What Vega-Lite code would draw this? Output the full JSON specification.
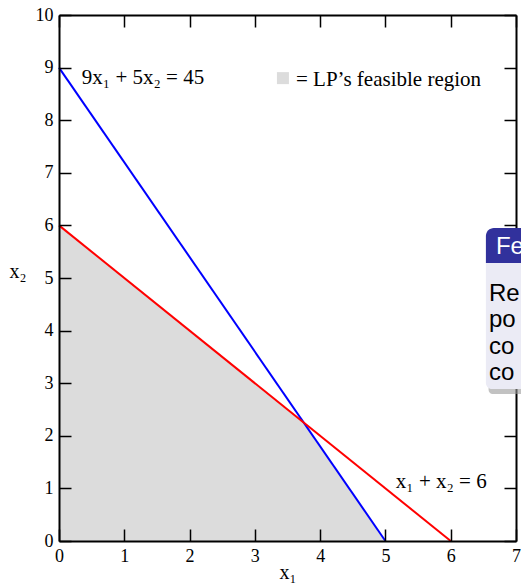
{
  "$schema": "https://vega.github.io/schema/vega-lite/v6.json",
  "width": 457,
  "height": 526,
  "autosize": {"type": "none"},
  "padding": {"left": 59, "top": 15, "right": 5, "bottom": 43},
  "background": "white",
  "config": {
    "view": {"stroke": null},
    "axis": {
      "grid": false,
      "domainColor": "black",
      "domainWidth": 2,
      "tickColor": "black",
      "tickWidth": 1.5,
      "tickSize": -12,
      "labelPadding": 18,
      "labelFont": "Liberation Serif",
      "labelFontSize": 18,
      "labelColor": "black",
      "labelOverlap": false,
      "labelFlush": false,
      "titleFont": "Liberation Serif",
      "titleFontSize": 20,
      "titleFontWeight": "normal",
      "titleColor": "black"
    }
  },
  "datasets": {
    "region": [
      {"x1": 0, "x2": 6},
      {"x1": 3.75, "x2": 2.25},
      {"x1": 5, "x2": 0}
    ],
    "constraints": [
      {"constraint": "9x1 + 5x2 = 45", "x1": 0, "x2": 9},
      {"constraint": "9x1 + 5x2 = 45", "x1": 5, "x2": 0},
      {"constraint": "x1 + x2 = 6", "x1": 0, "x2": 6},
      {"constraint": "x1 + x2 = 6", "x1": 6, "x2": 0}
    ],
    "labels": [
      {"text": "9x₁ + 5x₂ = 45", "x1": 0.35, "x2": 8.69},
      {"text": "x₁ + x₂ = 6", "x1": 5.16, "x2": 1.0},
      {"text": "= LP’s feasible region", "x1": 3.63, "x2": 8.65}
    ],
    "legendkey": [{"x1": 3.43, "x2": 8.8}],
    "blockhead": [{"xa": 6.539, "xb": 7.6, "ya": 5.951, "yb": 5.285}],
    "blockbody": [{"xa": 6.539, "xb": 7.6, "ya": 5.285, "yb": 2.89}],
    "blockshadow": [{"xa": 6.58, "xb": 7.6, "ya": 2.95, "yb": 2.795}],
    "blocktitle": [{"text": "Fe", "x1": 6.692, "x2": 5.456}],
    "blocktext": [
      {"text": "Re", "x1": 6.585, "x2": 4.563},
      {"text": "po", "x1": 6.585, "x2": 4.068},
      {"text": "co", "x1": 6.585, "x2": 3.564},
      {"text": "co", "x1": 6.585, "x2": 3.061}
    ]
  },
  "layer": [
    {
      "data": {"name": "region"},
      "mark": {"type": "area", "color": "#dcdcdc", "interpolate": "linear"},
      "encoding": {
        "x": {
          "field": "x1", "type": "quantitative",
          "scale": {"domain": [0, 7], "nice": false, "zero": false},
          "axis": {"orient": "bottom", "values": [0, 1, 2, 3, 4, 5, 6, 7], "title": "x₁", "titleY": 37, "titleBaseline": "alphabetic", "zindex": 1}
        },
        "y": {
          "field": "x2", "type": "quantitative",
          "scale": {"domain": [0, 10], "nice": false, "zero": false},
          "axis": {"orient": "left", "values": [0, 1, 2, 3, 4, 5, 6, 7, 8, 9, 10], "title": "x₂", "titleAngle": 0, "titleAlign": "left", "titleBaseline": "alphabetic", "titleX": -50, "titleY": 262, "zindex": 1}
        }
      }
    },
    {
      "data": {"name": "constraints"},
      "mark": {"type": "line", "strokeWidth": 2},
      "encoding": {
        "x": {
          "field": "x1", "type": "quantitative",
          "axis": {"orient": "top", "values": [0, 1, 2, 3, 4, 5, 6, 7], "labels": false, "title": null, "zindex": 0}
        },
        "y": {
          "field": "x2", "type": "quantitative",
          "axis": {"orient": "right", "values": [0, 1, 2, 3, 4, 5, 6, 7, 8, 9, 10], "labels": false, "title": null, "zindex": 0}
        },
        "color": {
          "field": "constraint", "type": "nominal",
          "scale": {"domain": ["9x1 + 5x2 = 45", "x1 + x2 = 6"], "range": ["#0000ff", "#ff0000"]},
          "legend": null
        }
      }
    },
    {
      "data": {"name": "labels"},
      "mark": {"type": "text", "align": "left", "baseline": "alphabetic", "font": "Liberation Serif", "fontSize": 21, "color": "black"},
      "encoding": {
        "x": {"field": "x1", "type": "quantitative", "axis": null},
        "y": {"field": "x2", "type": "quantitative", "axis": null},
        "text": {"field": "text"}
      }
    },
    {
      "data": {"name": "legendkey"},
      "mark": {"type": "point", "shape": "square", "filled": true, "color": "#dcdcdc", "size": 144, "opacity": 1},
      "encoding": {
        "x": {"field": "x1", "type": "quantitative", "axis": null},
        "y": {"field": "x2", "type": "quantitative", "axis": null}
      }
    },
    {
      "data": {"name": "blockshadow"},
      "mark": {"type": "rect", "color": "#9a9a9a", "opacity": 0.6, "cornerRadiusBottomLeft": 4},
      "encoding": {
        "x": {"field": "xa", "type": "quantitative", "axis": null},
        "x2": {"field": "xb"},
        "y": {"field": "ya", "type": "quantitative", "axis": null},
        "y2": {"field": "yb"}
      }
    },
    {
      "data": {"name": "blockbody"},
      "mark": {"type": "rect", "color": "#ebebf5", "cornerRadiusBottomLeft": 6},
      "encoding": {
        "x": {"field": "xa", "type": "quantitative", "axis": null},
        "x2": {"field": "xb"},
        "y": {"field": "ya", "type": "quantitative", "axis": null},
        "y2": {"field": "yb"}
      }
    },
    {
      "data": {"name": "blockhead"},
      "mark": {"type": "rect", "color": "#31319c", "cornerRadiusTopLeft": 8},
      "encoding": {
        "x": {"field": "xa", "type": "quantitative", "axis": null},
        "x2": {"field": "xb"},
        "y": {"field": "ya", "type": "quantitative", "axis": null},
        "y2": {"field": "yb"}
      }
    },
    {
      "data": {"name": "blocktitle"},
      "mark": {"type": "text", "align": "left", "baseline": "alphabetic", "font": "Liberation Sans", "fontSize": 24, "color": "white"},
      "encoding": {
        "x": {"field": "x1", "type": "quantitative", "axis": null},
        "y": {"field": "x2", "type": "quantitative", "axis": null},
        "text": {"field": "text"}
      }
    },
    {
      "data": {"name": "blocktext"},
      "mark": {"type": "text", "align": "left", "baseline": "alphabetic", "font": "Liberation Sans", "fontSize": 24, "color": "black"},
      "encoding": {
        "x": {"field": "x1", "type": "quantitative", "axis": null},
        "y": {"field": "x2", "type": "quantitative", "axis": null},
        "text": {"field": "text"}
      }
    }
  ],
  "resolve": {"axis": {"x": "independent", "y": "independent"}}
}
